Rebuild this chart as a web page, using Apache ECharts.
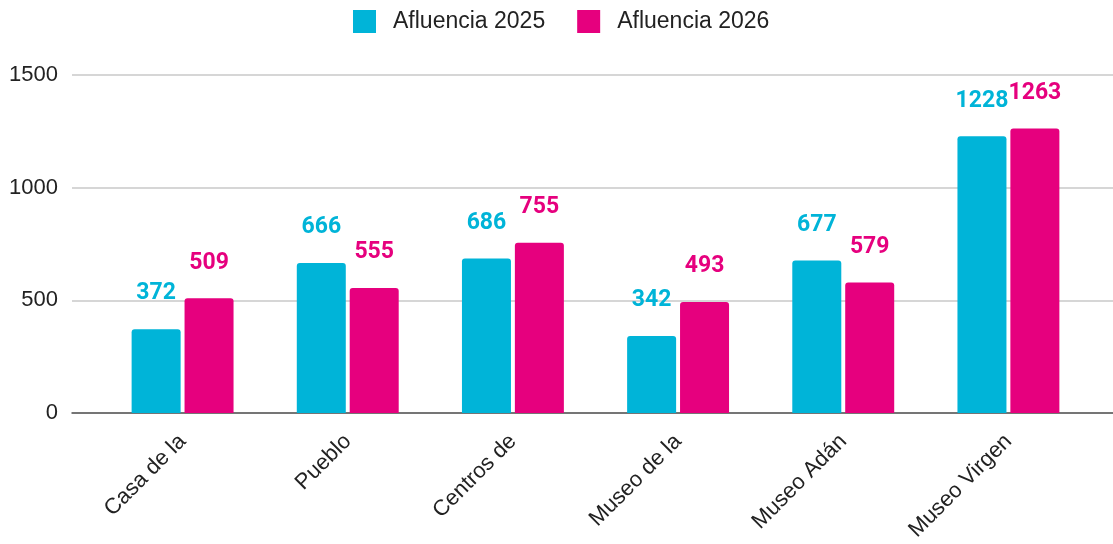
<!DOCTYPE html>
<html>
<head>
<meta charset="utf-8">
<script src="https://cdn.jsdelivr.net/npm/echarts@6/dist/echarts.min.js"></script>
<style>
  html, body { margin: 0; padding: 0; background: #fff; }
  #chart { width: 1113px; height: 544px; }
</style>
</head>
<body>
<div id="chart"></div>
<script>
const categories = ['Casa de la', 'Pueblo', 'Centros de', 'Museo de la', 'Museo Adán', 'Museo Virgen']
const afluencia2025 = [372, 666, 686, 342, 677, 1228]
const afluencia2026 = [509, 555, 755, 493, 579, 1263]
const yTicks = [0, 500, 1000, 1500]

const cyan = '#00b4d8'
const magenta = '#e6007e'
const axisFont = '"Liberation Sans", Arial, sans-serif'

const chart = echarts.init(document.getElementById('chart'))

const barLabel = (color) => ({
  show: true,
  position: 'top',
  distance: 24,
  color: color,
  fontFamily: 'Roboto, sans-serif',
  fontWeight: 'bold',
  fontSize: 23,
})

const option = {
  animation: false,
  legend: {
    top: 10,
    left: 353,
    padding: 0,
    icon: 'rect',
    itemWidth: 23,
    itemHeight: 23,
    itemGap: 32,
    textStyle: { fontFamily: axisFont, fontSize: 23, color: '#222', padding: [0, 0, 0, 12] },
    data: [
      { name: 'Afluencia 2025', itemStyle: { color: cyan } },
      { name: 'Afluencia 2026', itemStyle: { color: magenta } },
    ],
  },
  grid: [
    // bars
    { left: 100, right: 22, top: 75, bottom: 131 },
    // gridlines, y labels and baseline, spanning wider
    { left: 72, right: 0, top: 75, bottom: 131 },
  ],
  xAxis: [
    {
      type: 'category',
      gridIndex: 0,
      data: categories,
      axisLine: { show: false },
      axisTick: { show: false },
      axisLabel: {
        rotate: 45,
        margin: 25,
        interval: 0,
        fontFamily: axisFont,
        fontSize: 22,
        color: '#222',
      },
    },
    {
      type: 'value',
      gridIndex: 1,
      min: 0,
      max: 1,
      axisLine: { show: true, lineStyle: { color: '#555', width: 1.5 } },
      axisTick: { show: false },
      axisLabel: { show: false },
      splitLine: { show: false },
    },
  ],
  yAxis: [
    {
      type: 'value',
      gridIndex: 0,
      min: yTicks[0],
      max: yTicks[yTicks.length - 1],
      interval: 500,
      show: false,
    },
    {
      type: 'value',
      gridIndex: 1,
      min: yTicks[0],
      max: yTicks[yTicks.length - 1],
      interval: 500,
      axisLine: { show: false },
      axisTick: { show: false },
      axisLabel: {
        margin: 14,
        fontFamily: axisFont,
        fontSize: 22,
        color: '#222',
        formatter: (v) => String(v),
      },
      splitLine: { lineStyle: { color: '#c8c8c8', width: 1.5 } },
    },
  ],
  series: [
    {
      name: 'Afluencia 2025',
      type: 'bar',
      xAxisIndex: 0,
      yAxisIndex: 0,
      data: afluencia2025,
      barWidth: 49,
      barGap: '8%',
      itemStyle: { color: cyan, borderRadius: [3, 3, 0, 0] },
      label: barLabel(cyan),
      z: 3,
    },
    {
      name: 'Afluencia 2026',
      type: 'bar',
      xAxisIndex: 0,
      yAxisIndex: 0,
      data: afluencia2026,
      barWidth: 49,
      barGap: '8%',
      itemStyle: { color: magenta, borderRadius: [3, 3, 0, 0] },
      label: barLabel(magenta),
      z: 3,
    },
  ],
}

chart.setOption(option)
</script>
</body>
</html>
